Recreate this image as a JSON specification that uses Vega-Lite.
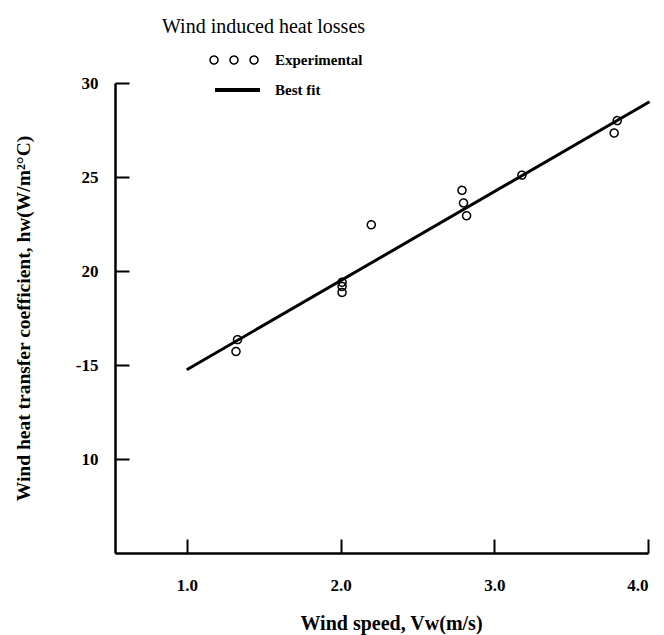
{
  "$schema": "https://vega.github.io/schema/vega-lite/v6.json",
  "autosize": "none",
  "width": 533,
  "height": 470,
  "padding": {"left": 115, "top": 83, "right": 16, "bottom": 82},
  "background": "white",
  "config": {
    "view": {"stroke": null},
    "font": "Liberation Serif",
    "axis": {
      "grid": false,
      "domainColor": "black",
      "domainWidth": 2.5,
      "tickColor": "black",
      "tickWidth": 2,
      "tickSize": -14,
      "labelFont": "Liberation Serif",
      "labelFontWeight": "bold",
      "labelFontSize": 17,
      "labelColor": "black",
      "titleFont": "Liberation Serif",
      "titleFontWeight": "bold",
      "titleColor": "black"
    },
    "legend": {
      "labelFont": "Liberation Serif",
      "labelFontWeight": "bold",
      "labelFontSize": 15,
      "labelColor": "black",
      "padding": 0
    }
  },
  "title": {
    "text": "Wind induced heat losses",
    "anchor": "start",
    "frame": "group",
    "dx": 47,
    "font": "Liberation Serif",
    "fontSize": 20,
    "fontWeight": "normal",
    "color": "black",
    "offset": 12
  },
  "datasets": {
    "points": [
      {"v": 1.33, "h": 16.35, "series": "Experimental"},
      {"v": 1.32, "h": 15.72, "series": "Experimental"},
      {"v": 2.01, "h": 19.4, "series": "Experimental"},
      {"v": 2.01, "h": 19.18, "series": "Experimental"},
      {"v": 2.01, "h": 18.86, "series": "Experimental"},
      {"v": 2.2, "h": 22.46, "series": "Experimental"},
      {"v": 2.79, "h": 24.29, "series": "Experimental"},
      {"v": 2.8, "h": 23.62, "series": "Experimental"},
      {"v": 2.82, "h": 22.94, "series": "Experimental"},
      {"v": 3.18, "h": 25.1, "series": "Experimental"},
      {"v": 3.8, "h": 28.0, "series": "Experimental"},
      {"v": 3.78, "h": 27.34, "series": "Experimental"}
    ],
    "fit": [
      {"v": 1.0, "h": 14.75, "series": "Best fit"},
      {"v": 4.01, "h": 29.0, "series": "Best fit"}
    ]
  },
  "layer": [
    {
      "data": {"name": "fit"},
      "mark": {"type": "line", "strokeWidth": 3},
      "encoding": {
        "x": {
          "field": "v", "type": "quantitative",
          "scale": {"domain": [0.533, 4.0], "nice": false, "zero": false},
          "axis": {
            "values": [1, 2, 3, 4], "format": ".1f",
            "labelPadding": 38,
            "title": "Wind speed, Vw(m/s)",
            "titleFontSize": 20,
            "titlePadding": 20,
            "titleX": 276
          }
        },
        "y": {
          "field": "h", "type": "quantitative",
          "scale": {"domain": [5, 30], "nice": false, "zero": false},
          "axis": {
            "values": [10, 15, 20, 25, 30],
            "labelExpr": "datum.value === 15 ? '-15' : datum.label",
            "labelPadding": 31,
            "title": "Wind heat transfer coefficient, hw(W/m²°C)",
            "titleFontSize": 19.5,
            "titlePadding": 42
          }
        },
        "color": {
          "field": "series", "type": "nominal",
          "scale": {"domain": ["Best fit"], "range": ["black"]},
          "legend": {
            "orient": "none",
            "legendX": 98,
            "legendY": -17.5,
            "title": null,
            "symbolType": "stroke",
            "symbolSize": 2025,
            "symbolStrokeWidth": 4,
            "labelOffset": 13
          }
        }
      }
    },
    {
      "data": {"name": "points"},
      "mark": {"type": "point", "filled": false, "color": "black", "strokeWidth": 1.5, "size": 64, "opacity": 1},
      "encoding": {
        "x": {"field": "v", "type": "quantitative"},
        "y": {"field": "h", "type": "quantitative"},
        "strokeDash": {
          "field": "series", "type": "nominal",
          "scale": {"domain": ["Experimental"], "range": [[1, 0]]},
          "legend": {
            "orient": "none",
            "legendX": 108,
            "legendY": -34,
            "title": null,
            "symbolType": "M-1.6,0A0.4,0.4,0,1,0,-2.4,0A0.4,0.4,0,1,0,-1.6,0ZM0.4,0A0.4,0.4,0,1,0,-0.4,0A0.4,0.4,0,1,0,0.4,0ZM2.4,0A0.4,0.4,0,1,0,1.6,0A0.4,0.4,0,1,0,2.4,0Z",
            "symbolSize": 400,
            "symbolStrokeWidth": 1.5,
            "symbolStrokeColor": "black",
            "symbolFillColor": "transparent",
            "labelOffset": 30
          }
        }
      }
    }
  ]
}
